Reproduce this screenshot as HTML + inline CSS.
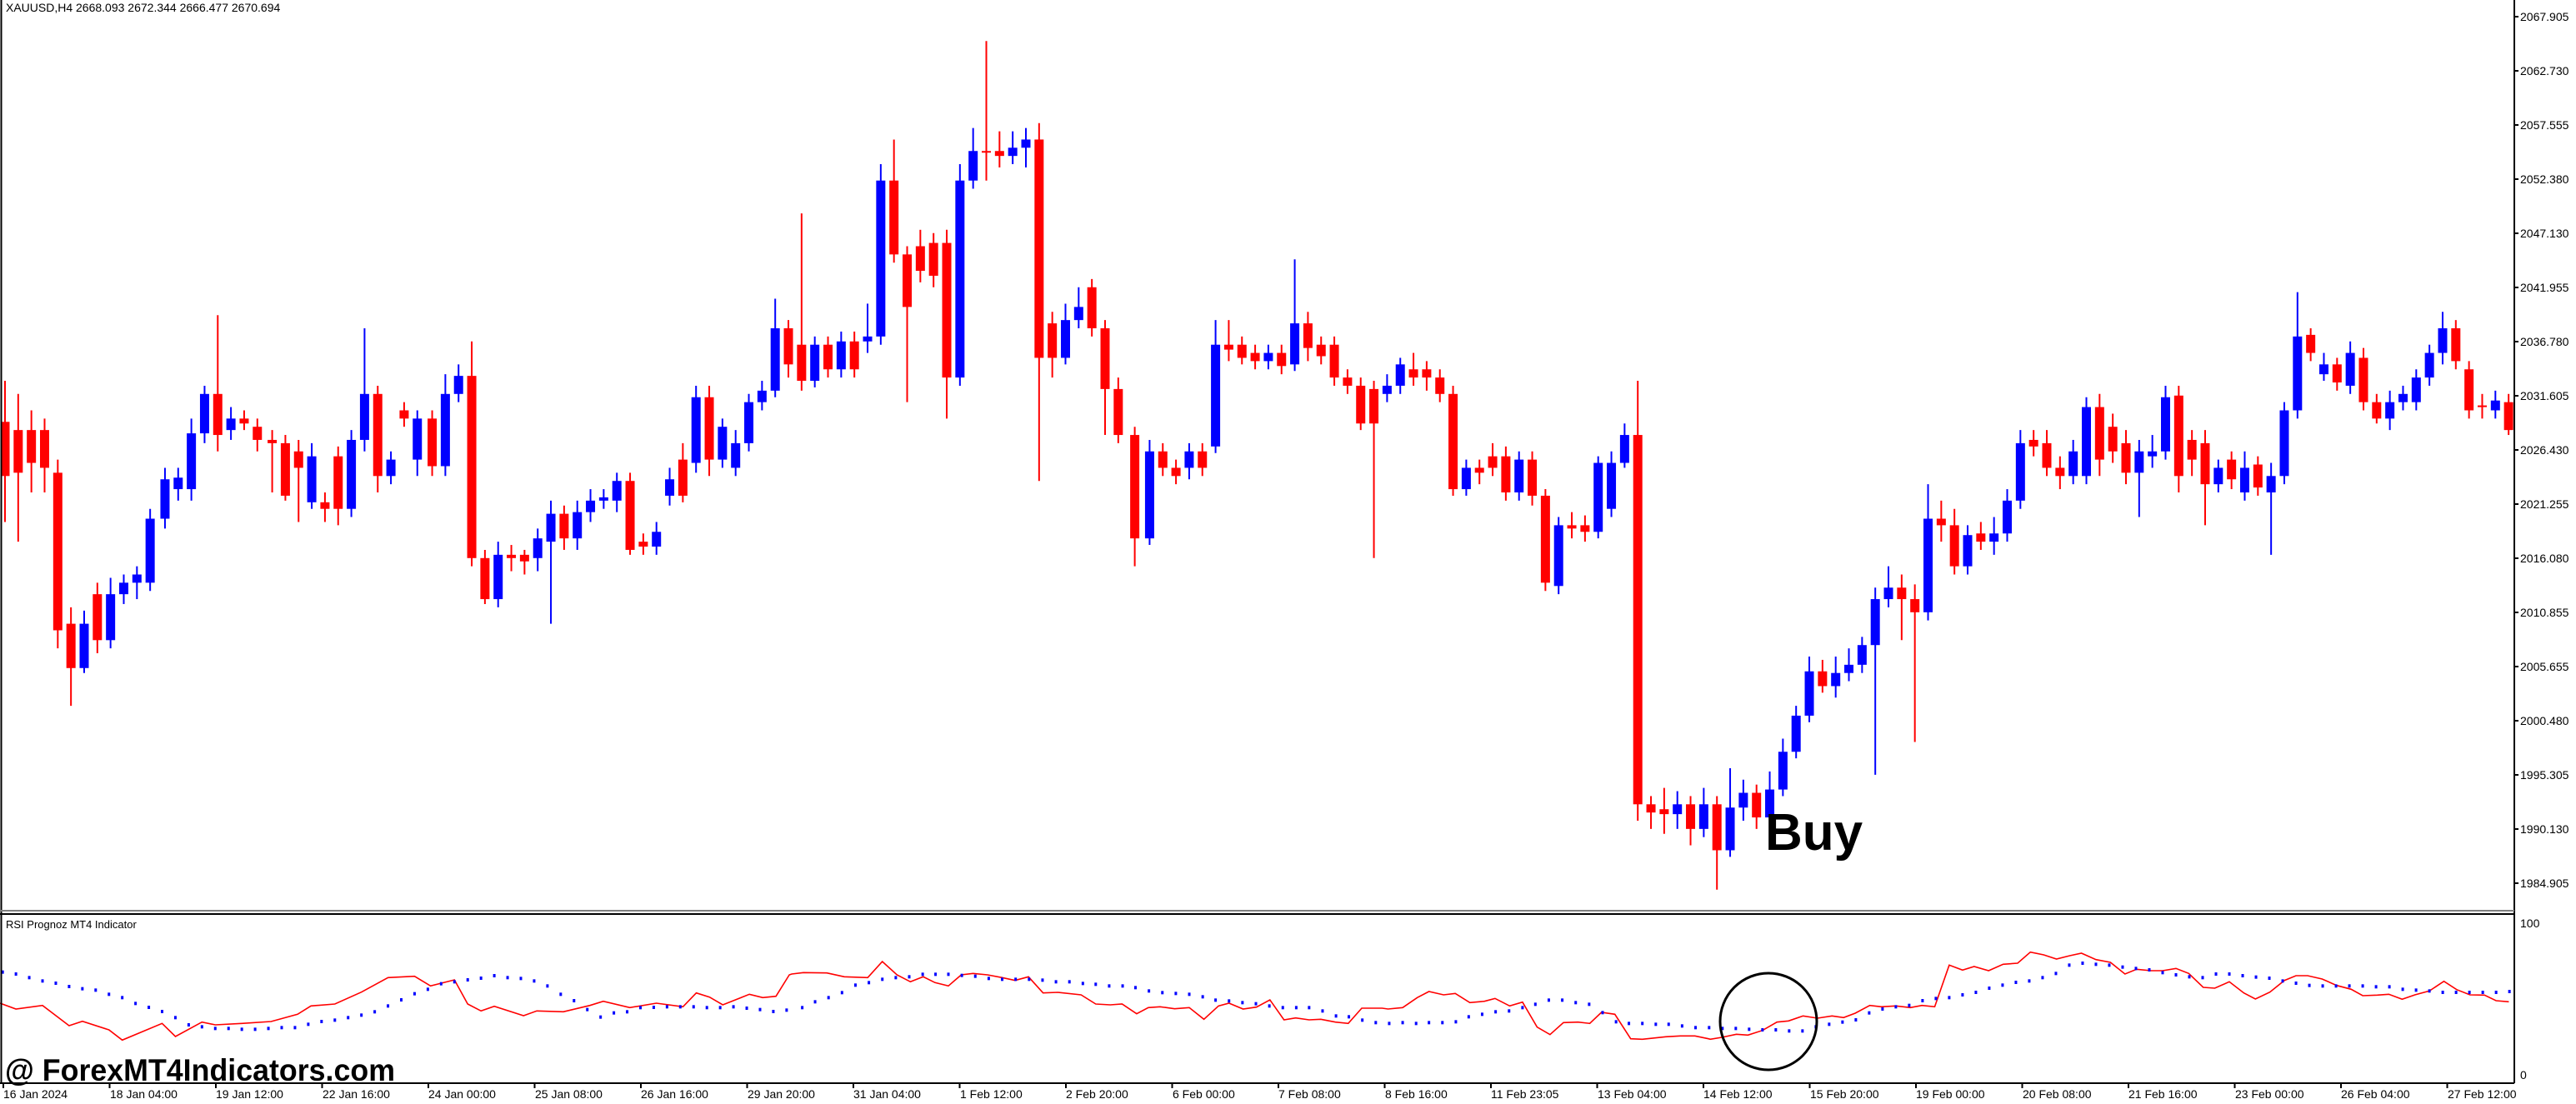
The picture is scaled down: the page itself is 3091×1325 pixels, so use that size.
<!DOCTYPE html>
<html><head><meta charset="utf-8"><style>
html,body{margin:0;padding:0;background:#fff;}
svg{display:block;font-family:"Liberation Sans",sans-serif;}
</style></head><body>
<svg id="s" width="3091" height="1325" viewBox="0 0 3091 1325" xmlns="http://www.w3.org/2000/svg">
<rect width="3091" height="1325" fill="#fff"/>
<g id="candles"></g>
<g id="rsi"></g>
<line x1="1.5" y1="0" x2="1.5" y2="1300" stroke="#000" stroke-width="2"/>
<line x1="3017" y1="0" x2="3017" y2="1300" stroke="#000" stroke-width="2"/>
<line x1="0" y1="1093" x2="3017" y2="1093" stroke="#808080" stroke-width="2"/>
<line x1="0" y1="1097" x2="3017" y2="1097" stroke="#000" stroke-width="2"/>
<line x1="0" y1="1300" x2="3017" y2="1300" stroke="#000" stroke-width="2"/>
<text x="7" y="14" font-size="14" fill="#000">XAUUSD,H4  2668.093 2672.344 2666.477 2670.694</text>
<text x="7" y="1114" font-size="13" fill="#000">RSI Prognoz MT4 Indicator</text>
<g font-size="14" fill="#000" id="pl">
<text x="3024" y="25">2067.905</text><text x="3024" y="90">2062.730</text><text x="3024" y="155">2057.555</text><text x="3024" y="220">2052.380</text><text x="3024" y="285">2047.130</text><text x="3024" y="350">2041.955</text><text x="3024" y="415">2036.780</text><text x="3024" y="480">2031.605</text><text x="3024" y="545">2026.430</text><text x="3024" y="610">2021.255</text><text x="3024" y="675">2016.080</text><text x="3024" y="740">2010.855</text><text x="3024" y="805">2005.655</text><text x="3024" y="870">2000.480</text><text x="3024" y="935">1995.305</text><text x="3024" y="1000">1990.130</text><text x="3024" y="1065">1984.905</text>
<text x="3024" y="1113">100</text><text x="3024" y="1295">0</text>
</g>
<g font-size="14" fill="#000">
<text x="4" y="1318">16 Jan 2024</text><text x="132" y="1318">18 Jan 04:00</text><text x="259" y="1318">19 Jan 12:00</text><text x="387" y="1318">22 Jan 16:00</text><text x="514" y="1318">24 Jan 00:00</text><text x="642" y="1318">25 Jan 08:00</text><text x="769" y="1318">26 Jan 16:00</text><text x="897" y="1318">29 Jan 20:00</text><text x="1024" y="1318">31 Jan 04:00</text><text x="1152" y="1318">1 Feb 12:00</text><text x="1279" y="1318">2 Feb 20:00</text><text x="1407" y="1318">6 Feb 00:00</text><text x="1534" y="1318">7 Feb 08:00</text><text x="1662" y="1318">8 Feb 16:00</text><text x="1789" y="1318">11 Feb 23:05</text><text x="1917" y="1318">13 Feb 04:00</text><text x="2044" y="1318">14 Feb 12:00</text><text x="2172" y="1318">15 Feb 20:00</text><text x="2299" y="1318">19 Feb 00:00</text><text x="2427" y="1318">20 Feb 08:00</text><text x="2554" y="1318">21 Feb 16:00</text><text x="2682" y="1318">23 Feb 00:00</text><text x="2809" y="1318">26 Feb 04:00</text><text x="2937" y="1318">27 Feb 12:00</text>
</g>
<g id="ticks" stroke="#000" stroke-width="2"></g>
<ellipse cx="2122" cy="1226" rx="58" ry="58" fill="none" stroke="#000" stroke-width="3"/>
<text x="2118" y="1020" font-size="62" font-weight="bold" fill="#000">Buy</text>
<text x="6" y="1297" font-size="37" font-weight="bold" fill="#000" textLength="468" lengthAdjust="spacingAndGlyphs">@ ForexMT4Indicators.com</text>
</svg>
<script>
var NS="http://www.w3.org/2000/svg";
function el(p,t,a){var e=document.createElementNS(NS,t);for(var k in a)e.setAttribute(k,a[k]);p.appendChild(e);return e;}
var C=[[3,257,290,232,318],[11,262,288,240,330],[19,262,282,250,300],[27,262,285,255,300],[35,288,384,280,395],[43,380,407,370,430],[51,407,380,372,410],[59,362,390,355,398],[67,390,362,352,395],[75,362,355,350,368],[83,355,350,345,365],[91,355,316,310,360],[100,316,292,285,322],[108,298,291,285,305],[116,298,264,255,305],[124,264,240,235,270],[132,240,265,192,275],[140,262,255,248,268],[148,255,258,250,262],[156,260,268,255,275],[165,268,270,262,300],[173,270,302,265,305],[181,275,285,268,318],[189,306,278,270,310],[197,306,310,300,318],[205,278,310,272,320],[213,310,268,262,315],[221,268,240,200,275],[229,240,290,235,300],[237,290,280,275,295],[245,250,255,245,260],[253,280,255,250,290],[262,255,284,250,290],[270,284,240,228,290],[278,240,229,222,245],[286,229,340,208,345],[294,340,365,335,368],[302,365,338,330,370],[310,338,340,332,348],[318,338,342,335,350],[326,340,328,322,348],[334,330,313,305,380],[342,313,328,308,335],[350,328,312,305,335],[358,312,305,298,318],[366,305,303,298,310],[374,305,293,288,312],[382,293,335,288,338],[390,330,333,325,338],[398,333,324,318,338],[406,302,292,285,308],[414,280,302,270,306],[422,282,242,235,288],[430,242,280,235,290],[438,280,260,255,285],[446,285,270,262,290],[454,270,245,240,275],[462,245,238,232,250],[470,238,200,182,242],[478,200,222,195,230],[486,210,232,130,238],[494,232,210,205,236],[502,210,225,205,230],[510,225,208,202,230],[518,208,225,202,230],[526,208,205,185,215],[534,205,110,100,210],[542,110,155,85,160],[550,155,187,150,245],[558,150,165,140,172],[566,148,168,142,175],[574,148,230,140,255],[582,230,110,100,235],[590,110,92,78,115],[598,92,93,25,110],[606,92,95,80,102],[614,95,90,80,100],[622,90,85,78,102],[630,85,218,75,293],[638,197,218,190,230],[646,218,195,185,222],[654,195,187,175,200],[662,175,200,170,205],[670,200,237,195,265],[678,237,265,230,270],[688,265,328,260,345],[697,328,275,268,332],[705,275,285,270,290],[713,285,290,280,295],[721,285,275,270,292],[729,275,285,270,290],[737,272,210,195,276],[745,210,213,195,220],[753,210,218,205,222],[761,215,220,210,225],[769,220,215,210,225],[777,215,223,210,228],[785,222,197,158,226],[793,197,212,190,220],[801,210,217,205,222],[809,210,230,205,235],[817,230,235,225,240],[825,235,258,230,262],[833,237,258,232,340],[841,240,235,228,245],[849,235,222,218,240],[857,225,230,215,235],[865,225,230,220,238],[873,230,240,225,245],[881,240,298,235,302],[889,298,285,280,302],[897,285,288,280,295],[905,278,285,270,290],[913,278,300,272,305],[921,300,280,275,305],[929,280,302,275,308],[937,302,355,298,360],[945,357,320,315,362],[953,320,322,312,328],[961,320,324,314,330],[969,324,282,278,328],[977,310,282,275,315],[985,282,265,258,285],[993,265,490,232,500],[1001,490,495,485,505],[1009,493,496,480,508],[1017,496,490,482,505],[1025,490,505,485,515],[1033,505,490,480,510],[1041,490,518,485,542],[1049,518,492,468,522],[1057,492,483,475,500],[1065,483,498,478,505],[1073,498,481,470,502],[1081,481,458,450,485],[1089,458,436,430,462],[1097,436,409,400,440],[1105,409,418,402,422],[1113,418,410,400,425],[1121,410,405,395,415],[1129,405,393,388,410],[1137,393,365,358,472],[1145,365,358,345,370],[1153,358,365,350,390],[1161,365,373,356,452],[1169,373,316,295,378],[1177,316,320,305,330],[1185,320,345,310,350],[1193,345,326,320,350],[1201,325,330,318,335],[1209,330,325,315,338],[1217,325,305,298,330],[1225,305,270,262,310],[1233,268,272,262,278],[1241,270,285,262,290],[1249,285,290,278,298],[1257,290,275,268,295],[1265,290,248,242,295],[1273,248,280,240,290],[1281,260,275,252,282],[1289,270,288,262,295],[1297,288,275,268,315],[1305,278,275,265,285],[1313,275,242,235,280],[1321,241,290,235,300],[1329,268,280,262,290],[1337,270,295,262,320],[1345,295,285,280,300],[1353,280,292,275,298],[1361,300,285,275,305],[1369,283,297,278,302],[1377,300,290,282,338],[1385,290,250,245,295],[1393,250,205,178,255],[1401,204,215,200,220],[1409,228,222,215,232],[1417,222,233,218,238],[1425,235,215,208,240],[1433,218,245,212,250],[1441,245,255,240,258],[1449,255,245,238,262],[1457,245,240,235,250],[1465,245,230,225,250],[1473,230,215,210,235],[1481,215,200,190,222],[1489,200,220,195,225],[1497,225,250,220,255],[1505,247,248,240,255],[1513,250,244,238,255],[1521,245,262,240,265]];
var g=document.getElementById('candles');
C.forEach(function(c){
 var x=6+(c[0]-3)*1.979,o=c[1]*1.97,cl=c[2]*1.97,h=c[3]*1.97,l=c[4]*1.97;
 var col=cl>o?'#ff0000':'#0000ff';
 el(g,'line',{x1:x,y1:h,x2:x,y2:l,stroke:col,'stroke-width':2});
 var t=Math.min(o,cl),b=Math.max(o,cl);if(b-t<2)b=t+2;
 el(g,'rect',{x:x-5.5,y:t,width:11,height:b-t,fill:col});
});
var r=document.getElementById('rsi');
function z4(a){return a.map(function(p){return [p[0]/1.568,1100+p[1]/3];});}
function z5(a){return a.map(function(p){return [2000+p[0]/1.437,1100+p[1]/3];});}
function zm(a){return a.map(function(p){return [950+p[0]/1.4255,1120+p[1]/3];});}
function lt(a,v){return a.filter(function(p){return p[0]<v;});}
function gt(a,v){return a.filter(function(p){return p[0]>v;});}
var red=lt(z4([[0,312],[30,333],[80,320],[130,393],[155,377],[205,408],[230,445],[305,385],[330,432],[380,380],[405,390],[455,385],[510,378],[560,352],[585,322],[630,315],[680,272],[730,220],[780,215],[810,250],[855,228],[880,315],[905,340],[930,323],[985,357],[1010,340],[1060,343],[1110,320],[1135,305],[1185,328],[1235,312],[1285,325],[1310,275],[1335,290],[1360,318],[1410,280],[1435,292],[1460,287],[1485,210],[1510,202],[1568,200]]),950)
.concat(zm([[0,147],[20,142],[60,143],[90,157],[130,160],[155,102],[180,150],[203,175],[225,157],[245,178],[268,190],[290,150],[310,145],[335,150],[360,160],[382,170],[405,157],[430,215],[455,213],[495,222],[520,255],[545,258],[565,255],[590,290],[610,268],[630,265],[655,272],[680,268],[705,310],[730,262],[748,252],[772,273],[795,266],[818,240],[842,312],[862,305],[885,312],[905,310],[930,320],[952,325],[975,270],[1010,270],[1020,273],[1045,268],[1070,232],[1090,210],[1115,222],[1135,217],[1160,250],[1185,245],[1203,235],[1228,262],[1250,248],[1275,338],[1297,365],[1320,322],[1345,320],[1365,325],[1385,285],[1408,292],[1435,380],[1455,382],[1495,373],[1520,370],[1545,370],[1568,380]]))
.concat(gt(z5([[0,432],[50,430],[75,442],[95,435],[120,424],[140,427],[165,410],[190,380],[210,376],[235,358],[260,366],[285,358],[305,364],[325,348],[350,320],[370,325],[395,322],[420,328],[440,320],[462,325],[487,175],[510,193],[530,180],[555,195],[580,172],[605,168],[627,128],[650,138],[672,153],[695,141],[715,132],[740,155],[765,165],[790,207],[810,190],[835,195],[855,195],[878,187],[900,205],[925,255],[945,258],[970,235],[995,275],[1015,297],[1040,272],[1065,230],[1085,213],[1105,213],[1130,225],[1155,248],[1180,262],[1200,285],[1225,283],[1245,280],[1268,298],[1290,282],[1315,268],[1340,233],[1362,263],[1385,282],[1410,283],[1430,303],[1452,307]]),2052));
el(r,'polyline',{points:red.map(function(p){return p[0].toFixed(1)+','+p[1].toFixed(1);}).join(' '),fill:'none',stroke:'#ff0000','stroke-width':1.6});
var blue=lt(z4([[5,200],[30,207],[55,220],[80,232],[105,240],[130,252],[155,260],[180,265],[205,280],[230,292],[255,313],[280,327],[305,342],[330,364],[355,390],[380,397],[405,403],[430,403],[455,406],[480,406],[505,403],[530,400],[555,400],[580,388],[605,378],[630,373],[655,364],[680,355],[705,343],[730,322],[755,300],[780,278],[805,262],[830,242],[855,235],[880,228],[905,222],[930,213],[955,220],[980,223],[1005,232],[1030,250],[1055,280],[1080,303],[1105,335],[1130,362],[1155,347],[1180,343],[1205,328],[1230,327],[1255,325],[1280,325],[1305,325],[1330,328],[1355,328],[1380,325],[1405,330],[1430,335],[1455,342],[1480,337],[1505,328],[1530,307],[1555,292]]),955)
.concat(zm([[18,268],[40,247],[63,232],[86,214],[109,187],[132,178],[155,166],[178,160],[201,157],[224,148],[246,148],[268,148],[291,152],[314,155],[337,163],[360,166],[383,166],[406,166],[429,169],[452,175],[475,175],[498,181],[520,184],[543,190],[566,190],[588,196],[611,208],[634,214],[657,217],[680,220],[703,229],[725,241],[748,244],[771,250],[794,254],[817,262],[840,268],[863,268],[885,268],[908,280],[931,298],[953,301],[976,313],[999,322],[1022,325],[1045,322],[1068,325],[1090,322],[1113,322],[1136,319],[1158,301],[1181,292],[1204,283],[1227,280],[1250,268],[1272,256],[1295,241],[1318,241],[1341,250],[1364,256],[1387,286],[1410,319],[1432,325],[1455,325],[1478,328],[1500,328],[1523,334],[1546,340]]))
.concat(gt(z5([[5,388],[27,393],[50,400],[73,400],[96,403],[119,403],[142,406],[165,408],[188,408],[211,412],[234,412],[257,397],[280,388],[303,380],[326,372],[349,347],[372,333],[395,325],[418,320],[441,303],[464,295],[487,292],[510,282],[533,273],[556,258],[579,247],[602,237],[625,232],[648,220],[671,205],[694,175],[717,168],[740,172],[763,175],[786,182],[809,187],[832,192],[855,202],[878,210],[901,217],[924,220],[947,207],[970,207],[993,213],[1016,218],[1039,222],[1062,232],[1085,240],[1108,248],[1131,250],[1154,250],[1177,250],[1200,250],[1223,253],[1246,253],[1269,262],[1292,265],[1315,268],[1338,273],[1361,273],[1384,273],[1407,273],[1430,273],[1453,270]]),2042));
blue.forEach(function(p){el(r,'rect',{x:p[0]-1.5,y:p[1]-2,width:3,height:4,fill:'#0000ff'});});
var tk=document.getElementById('ticks');
for(var i=0;i<24;i++){var x=4+127.5*i;el(tk,'line',{x1:x,y1:1300,x2:x,y2:1306});}
for(var i=0;i<17;i++){var y=20+65*i;el(tk,'line',{x1:3017,y1:y,x2:3022,y2:y});}
</script>
</body></html>
